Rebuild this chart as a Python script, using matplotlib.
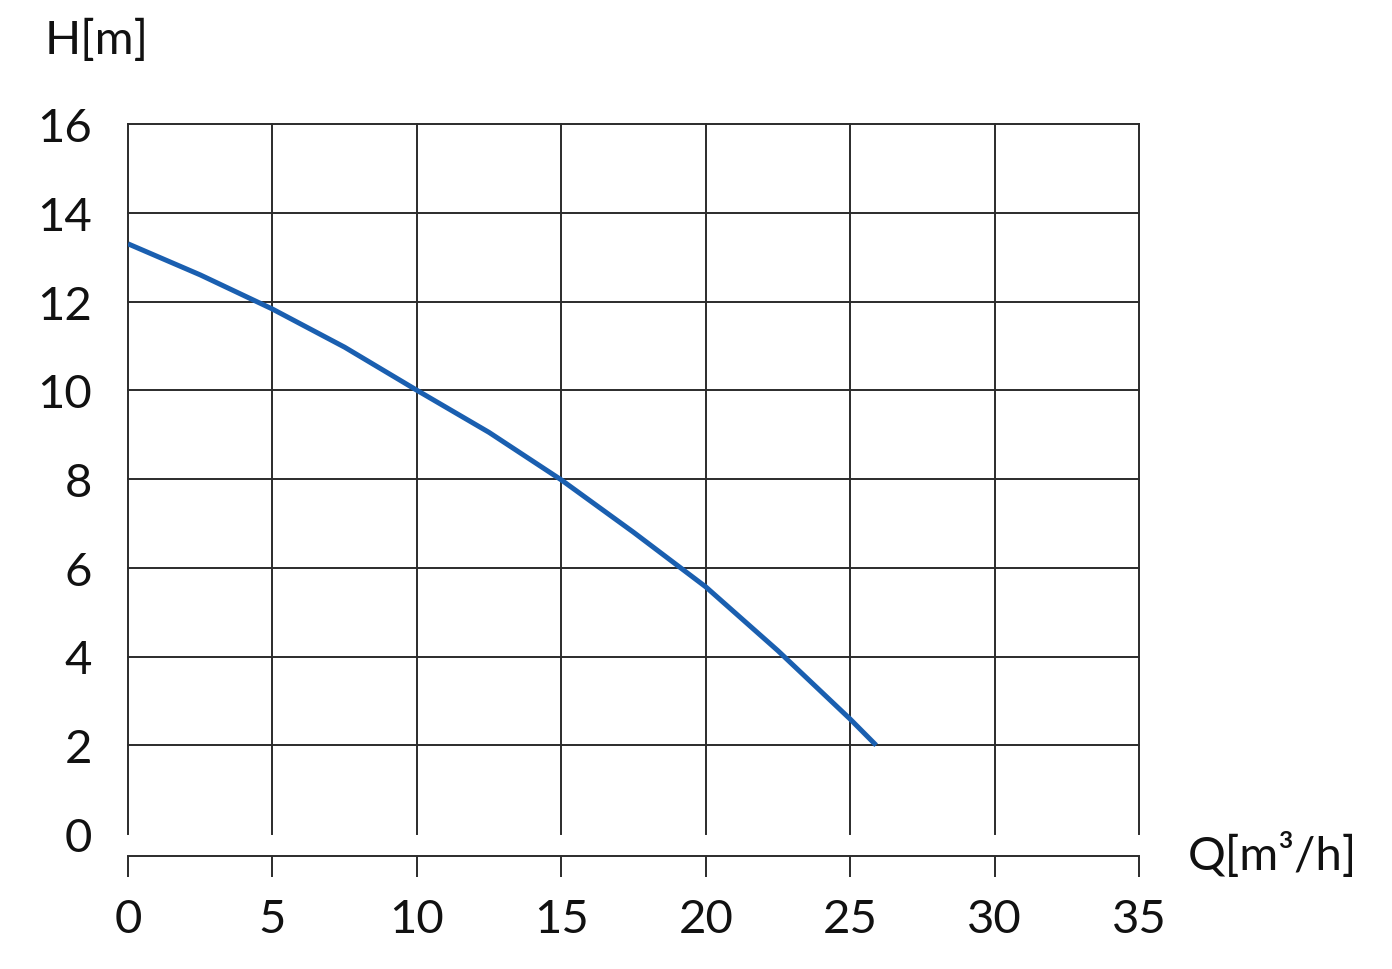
import numpy as np
import matplotlib
matplotlib.use("Agg")
import matplotlib.pyplot as plt

# pump curve
flow = [0, 2.5, 5, 7.5, 10, 12.5, 15, 17.5, 20, 22.5, 25, 25.9]
head = [13.3, 12.6, 11.83, 10.97, 10.0, 9.05, 7.98, 6.8, 5.57, 4.13, 2.59, 2.0]

x_ticks = [0, 5, 10, 15, 20, 25, 30, 35]
y_ticks = [0, 2, 4, 6, 8, 10, 12, 14, 16]

plt.rcParams["font.family"] = ["Lato", "DejaVu Sans"]

fig = plt.figure(figsize=(13.92, 9.70), dpi=100)
ax = fig.add_axes([128 / 1392, 1 - 835 / 970, (1139 - 128) / 1392, (835 - 125) / 970])
ax.set_xlim(0, 35)
ax.set_ylim(0, 16)

grid_color = "#2b2b2b"
for q in x_ticks:
    ax.plot([q, q], [0, 16], color=grid_color, lw=1.4, clip_on=False, zorder=1)
for h in y_ticks[1:]:
    ax.plot([0, 35], [h, h], color=grid_color, lw=1.4, clip_on=False, zorder=1)

ax.plot(flow, head, color="#1a5fb0", lw=3.6, solid_capstyle="butt", zorder=3)

for side in ["top", "right", "left"]:
    ax.spines[side].set_visible(False)
ax.spines["bottom"].set_position(("outward", 16))
ax.spines["bottom"].set_bounds(0, 35)
ax.spines["bottom"].set_color(grid_color)
ax.spines["bottom"].set_linewidth(1.4)

ax.set_xticks(x_ticks)
ax.set_yticks(y_ticks)
ax.tick_params(axis="x", direction="out", length=15, width=1.4, color=grid_color,
               pad=15, labelsize=34, labelcolor="#111111")
ax.tick_params(axis="y", length=0, pad=26, labelsize=34, labelcolor="#111111")

fig.text(45 / 1392, 1 - 40 / 970, "H[m]", fontsize=34, color="#111111",
         ha="left", va="center")
fig.text(1188 / 1392, 1 - 855 / 970, "Q[m³/h]", fontsize=34, color="#111111",
         ha="left", va="center")

fig.savefig("out.png", dpi=100, facecolor="white")
